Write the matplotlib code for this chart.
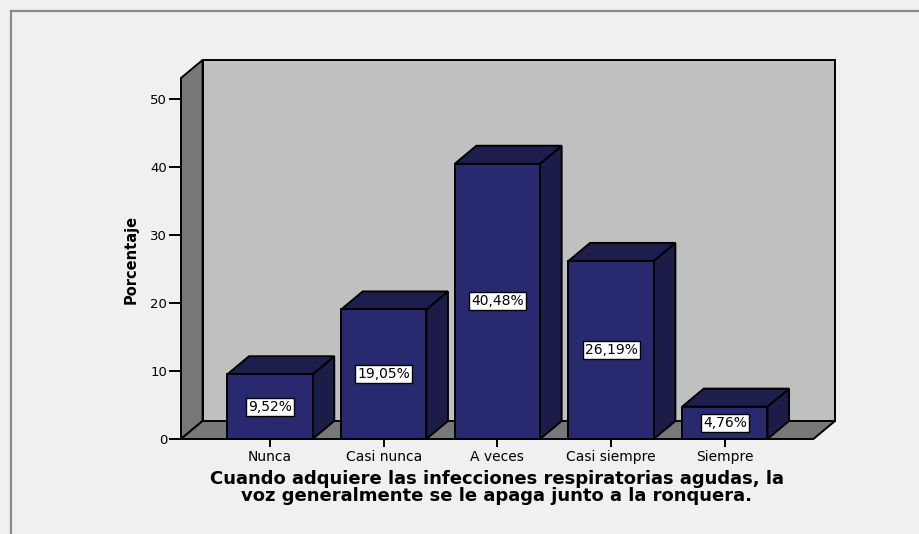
import matplotlib
matplotlib.use("Agg")
import matplotlib.pyplot as plt
from matplotlib.patches import Polygon
from matplotlib.lines import Line2D

# data
categories = ["Nunca", "Casi nunca", "A veces", "Casi siempre", "Siempre"]
percentages = [9.52, 19.05, 40.48, 26.19, 4.76]
bar_labels = ["9,52%", "19,05%", "40,48%", "26,19%", "4,76%"]
y_ticks = [0, 10, 20, 30, 40, 50]
x_title = "Cuando adquiere las infecciones respiratorias agudas, la\nvoz generalmente se le apaga junto a la ronquera."
y_title = "Porcentaje"

W, H = 919, 534
fig = plt.figure(figsize=(W / 100, H / 100), dpi=100)
fig.patch.set_facecolor("#f0f0f0")

# outer frame (only top and left edges visible in the original)
fig.add_artist(Line2D([11 / W, 11 / W], [0, 1 - 11 / H], color="#8a8a8a", lw=1.6))
fig.add_artist(Line2D([11 / W, 1], [1 - 11 / H, 1 - 11 / H], color="#8a8a8a", lw=1.6))

ax = fig.add_axes([181 / W, 95 / H, 654 / W, 379 / H])
x0, x1 = -0.783, 4.969
dx, dy = 0.19, 2.65      # 3d depth offset
ytop = 55.74
ax.set_xlim(x0, x1)
ax.set_ylim(0, ytop)
ax.patch.set_alpha(0)
for s in ax.spines.values():
    s.set_visible(False)

xf = x1 - dx   # right end of the front floor edge
wall_kw = dict(edgecolor="black", linewidth=1.4, joinstyle="miter")
# back wall
ax.add_patch(Polygon([(x0 + dx, dy), (x1, dy), (x1, ytop), (x0 + dx, ytop)],
                     facecolor="#c0c0c0", zorder=1, clip_on=False, **wall_kw))
# left wall
ax.add_patch(Polygon([(x0, 0), (x0 + dx, dy), (x0 + dx, ytop), (x0, ytop - dy)],
                     facecolor="#787878", zorder=2, clip_on=False, **wall_kw))
# floor
ax.add_patch(Polygon([(x0, 0), (xf, 0), (x1, dy), (x0 + dx, dy)],
                     facecolor="#787878", zorder=2, clip_on=False, **wall_kw))

width = 0.75
front_c, side_c, top_c = "#292970", "#1c1c48", "#1e1e4e"
for i, (v, lab) in enumerate(zip(percentages, bar_labels)):
    l, r = i - width / 2, i + width / 2
    ax.add_patch(Polygon([(r, 0), (r + dx, dy), (r + dx, v + dy), (r, v)],
                         facecolor=side_c, zorder=3, clip_on=False, **wall_kw))
    ax.add_patch(Polygon([(l, v), (r, v), (r + dx, v + dy), (l + dx, v + dy)],
                         facecolor=top_c, zorder=3, clip_on=False, **wall_kw))
    ax.add_patch(Polygon([(l, 0), (r, 0), (r, v), (l, v)],
                         facecolor=front_c, zorder=4, clip_on=False, **wall_kw))
    ax.text(i, v / 2, lab, ha="center", va="center", fontsize=10, zorder=5,
            bbox=dict(boxstyle="square,pad=0.15", facecolor="white",
                      edgecolor="black", linewidth=1.0))

ax.set_yticks(y_ticks)
ax.set_yticklabels([str(t) for t in y_ticks])
ax.set_xticks(range(len(categories)))
ax.set_xticklabels(categories)
ax.tick_params(axis="y", length=9, width=1.4, pad=1, labelsize=9.5, direction="out")
ax.tick_params(axis="x", length=6, width=1.4, pad=2, labelsize=10, direction="out")

fig.text(497 / W, 1 - 470 / H, x_title, ha="center", va="top", fontsize=13,
         fontweight="bold", linespacing=0.92)
fig.text(131 / W, 1 - 259 / H, y_title, ha="center", va="center", rotation=90,
         fontsize=10.5, fontweight="bold")

fig.savefig("out.png", dpi=100, facecolor=fig.get_facecolor())
